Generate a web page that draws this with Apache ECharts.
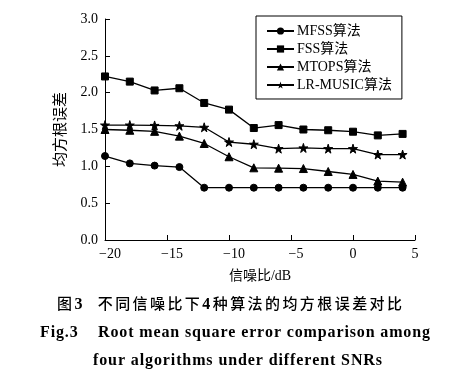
<!DOCTYPE html>
<html><head><meta charset="utf-8">
<script src="https://cdn.jsdelivr.net/npm/echarts@6/dist/echarts.min.js"></script>
<style>html,body{margin:0;padding:0;background:#fff}#c{width:457px;height:380px}</style>
</head><body><div id="c"></div>
<script>
const snr = [-20,-18,-16,-14,-12,-10,-8,-6,-4,-2,0,2,4];
const mfss = [1.14,1.04,1.01,0.99,0.71,0.71,0.71,0.71,0.71,0.71,0.71,0.71,0.71];
const fss = [2.22,2.15,2.03,2.06,1.86,1.77,1.52,1.56,1.50,1.49,1.47,1.42,1.44];
const mtops = [1.50,1.49,1.475,1.41,1.31,1.13,0.98,0.975,0.97,0.93,0.89,0.80,0.785];
const lrmusic = [1.56,1.56,1.555,1.55,1.53,1.33,1.30,1.24,1.25,1.24,1.24,1.16,1.16];
const names = ['MFSS算法','FSS算法','MTOPS算法','LR-MUSIC算法'];
const captionLines = ['图3  不同信噪比下4种算法的均方根误差对比','Fig.3    Root mean square error comparison among','four algorithms under different SNRs'];
const symbols = ['circle','rect','triangle','path://M50,0 L61,35 L98,35 L68,57 L79,91 L50,70 L21,91 L32,57 L2,35 L39,35 Z'];
const sizes = [7,7,8,9];
const allData = [mfss,fss,mtops,lrmusic];
const serif = '"Liberation Serif","Noto Sans CJK SC",serif';

// lay out a caption line with letter spacing to span [x0,x1]
const cv = document.createElement('canvas').getContext('2d');
function spaced(str, x0, x1, y, fontFn, dyFn){
  const chars = Array.from(str);
  const fonts = chars.map(fontFn);
  const ws = chars.map((c,i)=>{cv.font = fonts[i]; return cv.measureText(c).width;});
  const total = ws.reduce((a,b)=>a+b,0);
  const sp = (x1 - x0 - total)/(chars.length-1);
  const els = []; let x = x0;
  chars.forEach((c,i)=>{
    if(c.trim()) els.push({type:'text',x:x,y:y+(dyFn?dyFn(c):0),silent:true,
      style:{text:c,font:fonts[i],fill:'#000',textAlign:'left',textVerticalAlign:'middle',verticalAlign:'middle'}});
    x += ws[i]+sp;
  });
  return els;
}
const cjkFont = '500 15px "Noto Sans CJK SC",serif';
const digitFont = 'bold 16px "Liberation Serif",serif';
const capFont2 = 'bold 16px "Liberation Serif",serif';
const isDigit = c=>/[0-9 ]/.test(c);
const graphics = [].concat(
  spaced(captionLines[0],57,402,303,c=>isDigit(c)?digitFont:cjkFont,c=>isDigit(c)?1.5:0),
  spaced(captionLines[1],40,430,333,()=>capFont2),
  spaced(captionLines[2],93,382,361,()=>capFont2)
);

const chart = echarts.init(document.getElementById('c'));
chart.setOption({
  animation:false,
  backgroundColor:'#fff',
  textStyle:{fontFamily:serif,color:'#000'},
  grid:{left:105,right:42,top:19,bottom:140},
  legend:{
    orient:'vertical', left:256, top:16, width:145,
    padding:[8,10,7,10], itemGap:4, itemWidth:27, itemHeight:9,
    borderColor:'#000', borderWidth:1,
    textStyle:{fontFamily:serif,fontSize:14,color:'#000',padding:[0,0,0,-2]},
    data:names
  },
  xAxis:{
    type:'value', min:-20, max:5, interval:5,
    name:'信噪比/dB', nameLocation:'middle', nameGap:29,
    nameTextStyle:{fontFamily:serif,fontSize:14,color:'#000'},
    axisLine:{lineStyle:{color:'#000',width:1}},
    axisTick:{inside:true,length:5,lineStyle:{color:'#000'}},
    axisLabel:{fontFamily:serif,fontSize:14,color:'#000',margin:7,
      formatter:v=>v<0?'{neg|\u2212'+Math.abs(v)+'}':'{pos|'+v+'}',
      rich:{neg:{fontFamily:serif,fontSize:14,color:'#000',padding:[0,0,0,10]},
            pos:{fontFamily:serif,fontSize:14,color:'#000'}}},
    splitLine:{show:false}
  },
  yAxis:{
    type:'value', min:0, max:3, interval:0.5,
    name:'均方根误差', nameLocation:'middle', nameGap:36, nameRotate:90,
    nameTextStyle:{fontFamily:serif,fontSize:15,color:'#000'},
    axisLine:{show:true,onZero:false,lineStyle:{color:'#000',width:1}},
    axisTick:{show:true,inside:true,length:5,lineStyle:{color:'#000'}},
    axisLabel:{fontFamily:serif,fontSize:14,color:'#000',margin:7,formatter:v=>v.toFixed(1)},
    splitLine:{show:false}
  },
  series: names.map((n,i)=>({
    name:n, type:'line',
    data: snr.map((x,j)=>[x,allData[i][j]]),
    symbol:symbols[i], symbolSize:sizes[i], showAllSymbol:true,
    lineStyle:{color:'#000',width:1.3},
    itemStyle:{color:'#000',borderColor:'#000'}
  })),
  graphic:graphics
});
</script></body></html>
